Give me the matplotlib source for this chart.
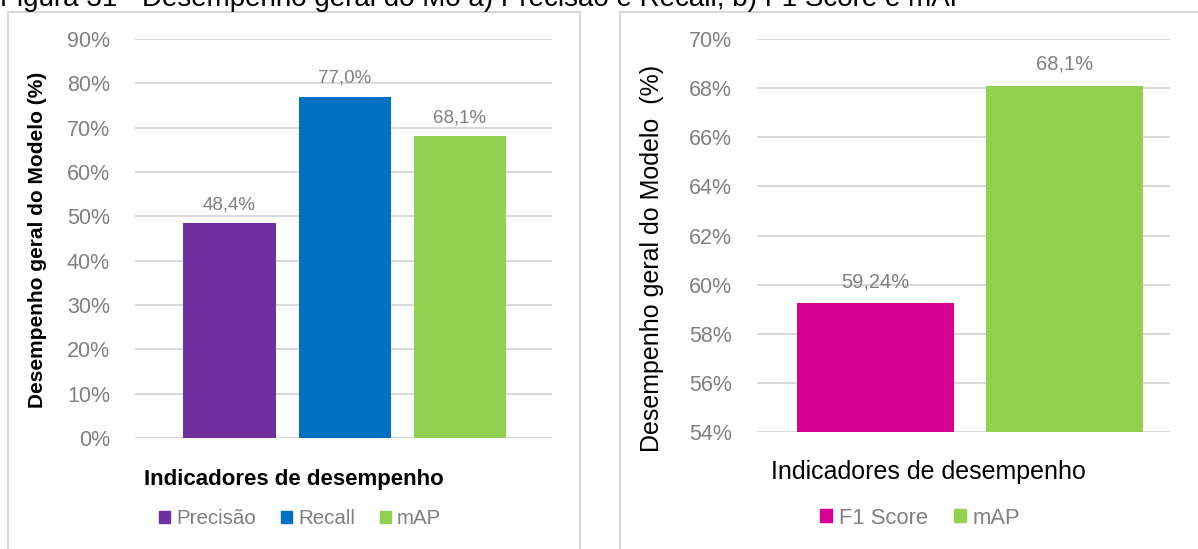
import matplotlib
matplotlib.use('Agg')
import matplotlib.pyplot as plt
from matplotlib.patches import Rectangle, Patch
from matplotlib.ticker import FuncFormatter

plt.rcParams['font.family'] = ['Liberation Sans', 'DejaVu Sans']

# a) Precisao e Recall
cats_a = ['Precisão', 'Recall', 'mAP']
vals_a = [48.4, 77.0, 68.1]
labels_a = ['48,4%', '77,0%', '68,1%']
colors_a = ['#7030A0', '#0070C0', '#92D050']

# b) F1 Score e mAP
cats_b = ['F1 Score', 'mAP']
vals_b = [59.24, 68.1]
labels_b = ['59,24%', '68,1%']
colors_b = ['#D60093', '#92D050']

grey = '#808080'
grid_c = '#D9D9D9'

def main():
    fig = plt.figure(figsize=(11.98, 5.49), dpi=100)

    # panel frames
    for x0, x1 in [(8, 580), (620, 1200)]:
        fig.patches.append(Rectangle((x0 / 1198, -0.05), (x1 - x0) / 1198, 1.05 - 12 / 549,
                                     transform=fig.transFigure, fill=False,
                                     edgecolor='#D9D9D9', lw=1.5))

    # caption is cut off at the top edge in the original too
    fig.text(0.0, 1 - 6 / 549, 'Figura 31 - Desempenho geral do Mo a) Precisão e Recall, b) F1 Score e mAP',
             fontsize=20, va='baseline', ha='left')

    # left chart
    ax1 = fig.add_axes([135 / 1198, 1 - 438 / 549, (552 - 135) / 1198, (438 - 39) / 549])
    x = range(len(cats_a))
    ax1.bar(x, vals_a, width=0.8, color=colors_a, zorder=3)
    for i, v in enumerate(vals_a):
        ax1.text(i, v + 2.2, labels_a[i], ha='center', va='bottom', color=grey, fontsize=13.5)
    ax1.set_ylim(0, 90)
    ax1.set_xlim(-0.82, 2.8)
    ax1.set_yticks(range(0, 91, 10))
    ax1.yaxis.set_major_formatter(FuncFormatter(lambda v, p: '%d%%' % v))
    ax1.set_xticks([])
    ax1.grid(axis='y', color=grid_c, lw=1.4, zorder=0)
    for s in ax1.spines.values():
        s.set_visible(False)
    ax1.tick_params(axis='y', length=0, labelcolor=grey, labelsize=15.5, pad=18)
    fig.text(38 / 1198, 1 - 240 / 549, 'Desempenho geral do Modelo (%)', rotation=90,
             ha='center', va='center', fontsize=15, fontweight='bold')
    fig.text(294 / 1198, 1 - 480 / 549, 'Indicadores de desempenho', ha='center', va='center',
             fontsize=16, fontweight='bold')
    h1 = [Patch(color=c, label=l) for c, l in zip(colors_a, cats_a)]
    leg1 = fig.legend(handles=h1, loc='center', bbox_to_anchor=(300 / 1198, 1 - 519 / 549),
                      ncol=3, frameon=False, fontsize=14.8, handlelength=0.55, handleheight=0.55,
                      handletextpad=0.3, columnspacing=1.2)
    for t in leg1.get_texts():
        t.set_color(grey)

    # right chart
    ax2 = fig.add_axes([757 / 1198, 1 - 432 / 549, (1170 - 757) / 1198, (432 - 39) / 549])
    x = range(len(cats_b))
    ax2.bar(x, vals_b, width=0.83, color=colors_b, zorder=3)
    for i, v in enumerate(vals_b):
        ax2.text(i, v + 0.5, labels_b[i], ha='center', va='bottom', color=grey, fontsize=14.5)
    ax2.set_ylim(54, 70)
    ax2.set_xlim(-0.625, 1.555)
    ax2.set_yticks(range(54, 71, 2))
    ax2.yaxis.set_major_formatter(FuncFormatter(lambda v, p: '%d%%' % v))
    ax2.set_xticks([])
    ax2.grid(axis='y', color=grid_c, lw=1.4, zorder=0)
    for s in ax2.spines.values():
        s.set_visible(False)
    ax2.tick_params(axis='y', length=0, labelcolor=grey, labelsize=15.5, pad=18)
    fig.text(652 / 1198, 1 - 258 / 549, 'Desempenho geral do Modelo  (%)', rotation=90,
             ha='center', va='center', fontsize=18)
    fig.text(928 / 1198, 1 - 472 / 549, 'Indicadores de desempenho', ha='center', va='center',
             fontsize=18)
    h2 = [Patch(color=c, label=l) for c, l in zip(colors_b, cats_b)]
    leg2 = fig.legend(handles=h2, loc='center', bbox_to_anchor=(920 / 1198, 1 - 518 / 549),
                      ncol=2, frameon=False, fontsize=15.8, handlelength=0.55, handleheight=0.55,
                      handletextpad=0.3, columnspacing=1.2)
    for t in leg2.get_texts():
        t.set_color(grey)

    fig.savefig('out.png', dpi=100)

if __name__ == '__main__':
    main()
